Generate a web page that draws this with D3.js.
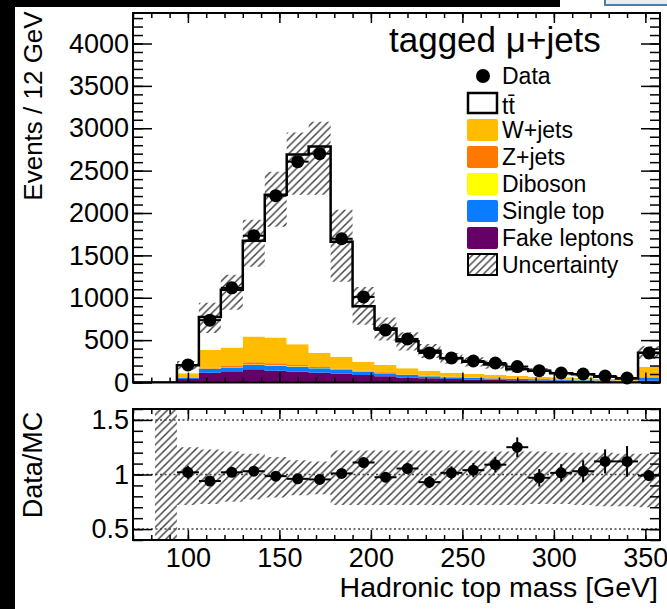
<!DOCTYPE html>
<html>
<head>
<meta charset="utf-8">
<script src="https://cdn.jsdelivr.net/npm/d3@7"></script>
<style>
  body { margin: 0; background: #fff; }
  svg { display: block; }
  text { font-family: "Liberation Sans", Arial, Helvetica, sans-serif; fill: #000; }
</style>
</head>
<body>
<svg id="chart" width="667" height="609"></svg>
<script>
// ---- histogram content: hadronic top mass, 12 GeV bins (bin centres) ----
const massBins = [76, 88, 100, 112, 124, 136, 148, 160, 172, 184, 196, 208,
                  220, 232, 244, 256, 268, 280, 292, 304, 316, 328, 340, 352];
const binWidth = 12;

const dataCounts = [null, null, 207, 736, 1117, 1732, 2204, 2606, 2700, 1696, 1010, 620,
                    514, 349, 290, 254, 230, 188, 140, 112, 100, 77, 53, 349];

const fakeLeptons = [0, 0, 40, 115, 125, 156, 140, 128, 116, 105, 89, 75,
                     60, 50, 42, 36, 32, 28, 25, 22, 19, 16, 14, 22];
const singleTop   = [0, 0, 12, 48, 52, 51, 59, 59, 52, 43, 39, 35,
                     28, 24, 20, 17, 15, 13, 12, 10, 9, 8, 6, 30];
const diboson     = [0, 0, 1, 3, 4, 5, 5, 4, 4, 3, 3, 3,
                     2, 2, 2, 2, 1, 1, 1, 1, 1, 1, 1, 2];
const zJets       = [0, 0, 6, 12, 14, 28, 23, 16, 12, 10, 8, 7,
                     6, 5, 4, 4, 3, 3, 3, 2, 2, 2, 1, 8];
const wJets       = [0, 0, 50, 205, 218, 302, 303, 244, 168, 144, 107, 87,
                     72, 59, 48, 41, 38, 32, 28, 26, 22, 18, 16, 125];
const ttbar       = [0, 0, 94, 391, 680, 1131, 1686, 2238, 2432, 1355, 654, 429,
                     319, 235, 170, 144, 122, 80, 71, 49, 44, 24, 9, 165];

// systematic band on the total prediction (absolute, up / down)
const uncUp   = [0, 0, 50, 166, 177, 247, 272, 261, 294, 378, 228, 130,
                 105, 80, 63, 54, 46, 35, 31, 24, 21, 15, 10, 75];
const uncDown = [0, 0, 50, 189, 236, 308, 378, 473, 568, 472, 220, 140,
                 110, 85, 65, 55, 48, 36, 32, 25, 22, 16, 11, 75];

// ratio panel
const ratioVals = [null, null, 1.02, 0.94, 1.02, 1.03, 0.985, 0.96, 0.955, 1.01, 1.11, 0.975,
                   1.055, 0.93, 1.015, 1.04, 1.09, 1.25, 0.97, 1.015, 1.03, 1.12, 1.12, 0.99];
const ratioErrs = [null, null, 0.06, 0.04, 0.03, 0.03, 0.025, 0.02, 0.02, 0.03, 0.035, 0.045,
                   0.05, 0.055, 0.06, 0.065, 0.07, 0.09, 0.08, 0.08, 0.1, 0.11, 0.14, 0.05];
const ratioBandUp   = [0, 1, 0.25, 0.23, 0.21, 0.19, 0.16, 0.13, 0.12, 0.22, 0.22, 0.22,
                       0.22, 0.22, 0.22, 0.22, 0.21, 0.21, 0.21, 0.2, 0.2, 0.2, 0.19, 0.19];
const ratioBandDown = [0, 1, 0.28, 0.27, 0.25, 0.23, 0.21, 0.19, 0.18, 0.28, 0.28, 0.28,
                       0.28, 0.28, 0.28, 0.28, 0.28, 0.28, 0.27, 0.27, 0.28, 0.29, 0.29, 0.3];

// axes
const yTickLabels = [0, 500, 1000, 1500, 2000, 2500, 3000, 3500, 4000];
const ratioTickLabels = [0.5, 1, 1.5];
const xTickLabels = [100, 150, 200, 250, 300, 350];

// processes, bottom of the stack first
const processKeys   = ["fake", "single", "diboson", "zjets", "wjets", "ttbar"];
const processColors = ["#660066", "#0a7cff", "#ffff00", "#ff7800", "#ffbc00", "#ffffff"];

// legend entries, top to bottom
const legendLabels = ["Data", "tt\u0304", "W+jets", "Z+jets", "Diboson", "Single top", "Fake leptons", "Uncertainty"];
const legendKinds  = ["marker", "ttbar", "wjets", "zjets", "diboson", "single", "fake", "band"];

// ---- layout ----
const svg = d3.select("#chart");
const frameL = 133, frameR = 660;
const topT = 13, topB = 382.5;
const ratT = 409, ratB = 540;
const font = 27;

const x = d3.scaleLinear().domain([70, 358]).range([frameL, frameR]);
const yTop = d3.scaleLinear().domain([0, 4360]).range([topB, topT]);
const yRat = d3.scaleLinear().domain([0.4, 1.6]).range([ratB, ratT]);

// hatch pattern for uncertainties
const defs = svg.append("defs");
const pat = defs.append("pattern").attr("id", "hatch")
  .attr("patternUnits", "userSpaceOnUse").attr("width", 7.5).attr("height", 7.5);
pat.append("path").attr("d", "M0,7.5 L7.5,0 M-1,1 L1,-1 M6.5,8.5 L8.5,6.5")
  .attr("stroke", "#3a3a3a").attr("stroke-width", 1.4);
defs.append("clipPath").attr("id", "clipTop").append("rect")
  .attr("x", frameL).attr("y", topT).attr("width", frameR - frameL).attr("height", topB - topT);
defs.append("clipPath").attr("id", "clipRat").append("rect")
  .attr("x", frameL).attr("y", ratT).attr("width", frameR - frameL).attr("height", ratB - ratT);

// ---- stacked prediction ----
const table = massBins.map((c, i) => ({
  c, fake: fakeLeptons[i], single: singleTop[i], diboson: diboson[i],
  zjets: zJets[i], wjets: wJets[i], ttbar: ttbar[i]
}));
const stacked = d3.stack().keys(processKeys)(table);

// expand a per-bin series into step vertices
function steps(rows, lo, hi) {
  const pts = [];
  rows.forEach((r, i) => {
    pts.push({ x: massBins[i] - binWidth / 2, y0: lo(r, i), y1: hi(r, i) });
    pts.push({ x: massBins[i] + binWidth / 2, y0: lo(r, i), y1: hi(r, i) });
  });
  return pts;
}

const gTop = svg.append("g").attr("clip-path", "url(#clipTop)");
const areaTop = d3.area().x(d => x(d.x)).y0(d => yTop(d.y0)).y1(d => yTop(d.y1));

stacked.forEach((layer, k) => {
  gTop.append("path")
    .attr("d", areaTop(steps(layer, d => d[0], d => d[1])))
    .attr("fill", processColors[k]).attr("stroke", "none");
});

const totals = stacked[stacked.length - 1].map(d => d[1]);

// uncertainty band
gTop.append("path")
  .attr("d", areaTop(steps(totals, (t, i) => Math.max(0, t - uncDown[i]), (t, i) => t + uncUp[i])))
  .attr("fill", "url(#hatch)");

// outline of the total prediction
const lineTop = d3.line().x(d => x(d.x)).y(d => yTop(d.y1));
gTop.append("path")
  .attr("d", lineTop(steps(totals, () => 0, t => t)))
  .attr("fill", "none").attr("stroke", "#000").attr("stroke-width", 2.5);

// data points with error bars
const pts = massBins.map((c, i) => ({ c, v: dataCounts[i] })).filter(d => d.v !== null);
const gData = svg.append("g");
gData.selectAll("line.h").data(pts).join("line")
  .attr("x1", d => x(d.c - binWidth / 2)).attr("x2", d => x(d.c + binWidth / 2))
  .attr("y1", d => yTop(d.v)).attr("y2", d => yTop(d.v))
  .attr("stroke", "#000").attr("stroke-width", 2);
gData.selectAll("line.v").data(pts).join("line")
  .attr("x1", d => x(d.c)).attr("x2", d => x(d.c))
  .attr("y1", d => yTop(d.v - Math.sqrt(d.v))).attr("y2", d => yTop(d.v + Math.sqrt(d.v)))
  .attr("stroke", "#000").attr("stroke-width", 2);
gData.selectAll("circle").data(pts).join("circle")
  .attr("cx", d => x(d.c)).attr("cy", d => yTop(d.v)).attr("r", 6.5).attr("fill", "#000");

// ---- ratio panel ----
const gRat = svg.append("g").attr("clip-path", "url(#clipRat)");
const areaRat = d3.area().x(d => x(d.x)).y0(d => yRat(d.y0)).y1(d => yRat(d.y1));
const bandPts = [];
massBins.forEach((c, i) => {
  if (ratioBandUp[i] === 0 && ratioBandDown[i] === 0) return;
  bandPts.push(
    { x: c - binWidth / 2, y0: 1 - ratioBandDown[i], y1: 1 + ratioBandUp[i] },
    { x: c + binWidth / 2, y0: 1 - ratioBandDown[i], y1: 1 + ratioBandUp[i] }
  );
});
gRat.append("path").attr("d", areaRat(bandPts)).attr("fill", "url(#hatch)");

// reference lines
ratioTickLabels.forEach(v => {
  svg.append("line")
    .attr("x1", frameL).attr("x2", frameR).attr("y1", yRat(v)).attr("y2", yRat(v))
    .attr("stroke", "#444").attr("stroke-width", 1.5).attr("stroke-dasharray", "2,2.5");
});

const rpts = massBins.map((c, i) => ({ c, v: ratioVals[i], e: ratioErrs[i] })).filter(d => d.v !== null);
const gR = svg.append("g");
gR.selectAll("line.h").data(rpts).join("line")
  .attr("x1", d => x(d.c - binWidth / 2)).attr("x2", d => x(d.c + binWidth / 2))
  .attr("y1", d => yRat(d.v)).attr("y2", d => yRat(d.v))
  .attr("stroke", "#000").attr("stroke-width", 2);
gR.selectAll("line.v").data(rpts).join("line")
  .attr("x1", d => x(d.c)).attr("x2", d => x(d.c))
  .attr("y1", d => yRat(d.v - d.e)).attr("y2", d => yRat(d.v + d.e))
  .attr("stroke", "#000").attr("stroke-width", 2);
gR.selectAll("circle").data(rpts).join("circle")
  .attr("cx", d => x(d.c)).attr("cy", d => yRat(d.v)).attr("r", 5.5).attr("fill", "#000");

// ---- axes ----
function styleAxis(g, labels) {
  g.select(".domain").remove();
  g.selectAll(".tick line").attr("stroke", "#000").attr("stroke-width", 1.5);
  g.selectAll(".tick text").attr("font-size", font)
    .attr("font-family", "Liberation Sans, Arial, Helvetica, sans-serif").attr("fill", "#000");
  if (!labels) g.selectAll(".tick text").remove();
}

const minorX = d3.range(70, 359, 10);
function xAxes(yBottom, yTopEdge, withLabels, major, minor) {
  svg.append("g").attr("transform", `translate(0,${yBottom})`)
    .call(d3.axisBottom(x).tickValues(minorX).tickSize(-minor).tickFormat(""))
    .call(g => styleAxis(g, false));
  svg.append("g").attr("transform", `translate(0,${yBottom})`)
    .call(d3.axisBottom(x).tickValues(xTickLabels).tickSize(-major).tickPadding(8).tickFormat(d3.format("d")))
    .call(g => styleAxis(g, withLabels));
  svg.append("g").attr("transform", `translate(0,${yTopEdge})`)
    .call(d3.axisTop(x).tickValues(minorX).tickSize(-minor).tickFormat(""))
    .call(g => styleAxis(g, false));
  svg.append("g").attr("transform", `translate(0,${yTopEdge})`)
    .call(d3.axisTop(x).tickValues(xTickLabels).tickSize(-major).tickFormat(""))
    .call(g => styleAxis(g, false));
}
xAxes(topB, topT, false, 10, 5);
xAxes(ratB, ratT, true, 10, 5);

function yAxes(scale, majors, minors, majorLen, minorLen, fmt) {
  svg.append("g").attr("transform", `translate(${frameL},0)`)
    .call(d3.axisLeft(scale).tickValues(minors).tickSize(-minorLen).tickFormat(""))
    .call(g => styleAxis(g, false));
  svg.append("g").attr("transform", `translate(${frameL},0)`)
    .call(d3.axisLeft(scale).tickValues(majors).tickSize(-majorLen).tickPadding(4).tickFormat(fmt))
    .call(g => styleAxis(g, true));
  svg.append("g").attr("transform", `translate(${frameR},0)`)
    .call(d3.axisRight(scale).tickValues(minors).tickSize(-minorLen).tickFormat(""))
    .call(g => styleAxis(g, false));
  svg.append("g").attr("transform", `translate(${frameR},0)`)
    .call(d3.axisRight(scale).tickValues(majors).tickSize(-majorLen).tickFormat(""))
    .call(g => styleAxis(g, false));
}
yAxes(yTop, yTickLabels, d3.range(0, 4360, 100), 19, 10, d3.format("d"));
yAxes(yRat, ratioTickLabels, d3.range(0.4, 1.6001, 0.1), 19, 10, d => String(d));

// frames
[[topT, topB], [ratT, ratB]].forEach(([t, b]) => {
  svg.append("rect").attr("x", frameL).attr("y", t)
    .attr("width", frameR - frameL).attr("height", b - t)
    .attr("fill", "none").attr("stroke", "#000").attr("stroke-width", 2);
});

// axis titles
svg.append("text").attr("transform", "translate(42,106) rotate(-90)")
  .attr("text-anchor", "middle").attr("font-size", 26).text("Events / 12 GeV");
svg.append("text").attr("transform", "translate(42,465) rotate(-90)")
  .attr("text-anchor", "middle").attr("font-size", 27).text("Data/MC");
svg.append("text").attr("x", 658).attr("y", 597)
  .attr("text-anchor", "end").attr("font-size", 28.5).text("Hadronic top mass [GeV]");

// channel label
svg.append("text").attr("x", 389).attr("y", 52).attr("font-size", 35).text("tagged \u03bc+jets");

// ---- legend ----
const legX = 468, legTextX = 502, legY0 = 76, legStep = 27;
const colorOf = k => processColors[processKeys.indexOf(k)];
legendLabels.forEach((lab, i) => {
  const cy = legY0 + i * legStep;
  const kind = legendKinds[i];
  if (kind === "marker") {
    svg.append("circle").attr("cx", legX + 15).attr("cy", cy).attr("r", 7).attr("fill", "#000");
  } else if (kind === "band") {
    svg.append("rect").attr("x", legX).attr("y", cy - 11).attr("width", 29).attr("height", 21)
      .attr("fill", "url(#hatch)").attr("stroke", "#000").attr("stroke-width", 2);
  } else if (kind === "ttbar") {
    svg.append("rect").attr("x", legX).attr("y", cy - 10).attr("width", 29).attr("height", 20)
      .attr("fill", "#fff").attr("stroke", "#000").attr("stroke-width", 2.5);
  } else {
    svg.append("rect").attr("x", legX - 1).attr("y", cy - 11).attr("width", 31).attr("height", 22)
      .attr("rx", 2).attr("fill", colorOf(kind));
  }
  svg.append("text").attr("x", legTextX).attr("y", cy + (kind === "ttbar" ? 11 : 8))
    .attr("font-size", 23).text(lab);
});

// surrounding page edges
svg.append("rect").attr("x", 0).attr("y", 0).attr("width", 15).attr("height", 609).attr("fill", "#000");
svg.append("rect").attr("x", 0).attr("y", 0).attr("width", 560).attr("height", 7).attr("fill", "#000");
svg.append("rect").attr("x", 605).attr("y", -3).attr("width", 64).attr("height", 8)
  .attr("fill", "#e4edf2").attr("stroke", "#4f7f9c").attr("stroke-width", 2);
</script>
</body>
</html>
